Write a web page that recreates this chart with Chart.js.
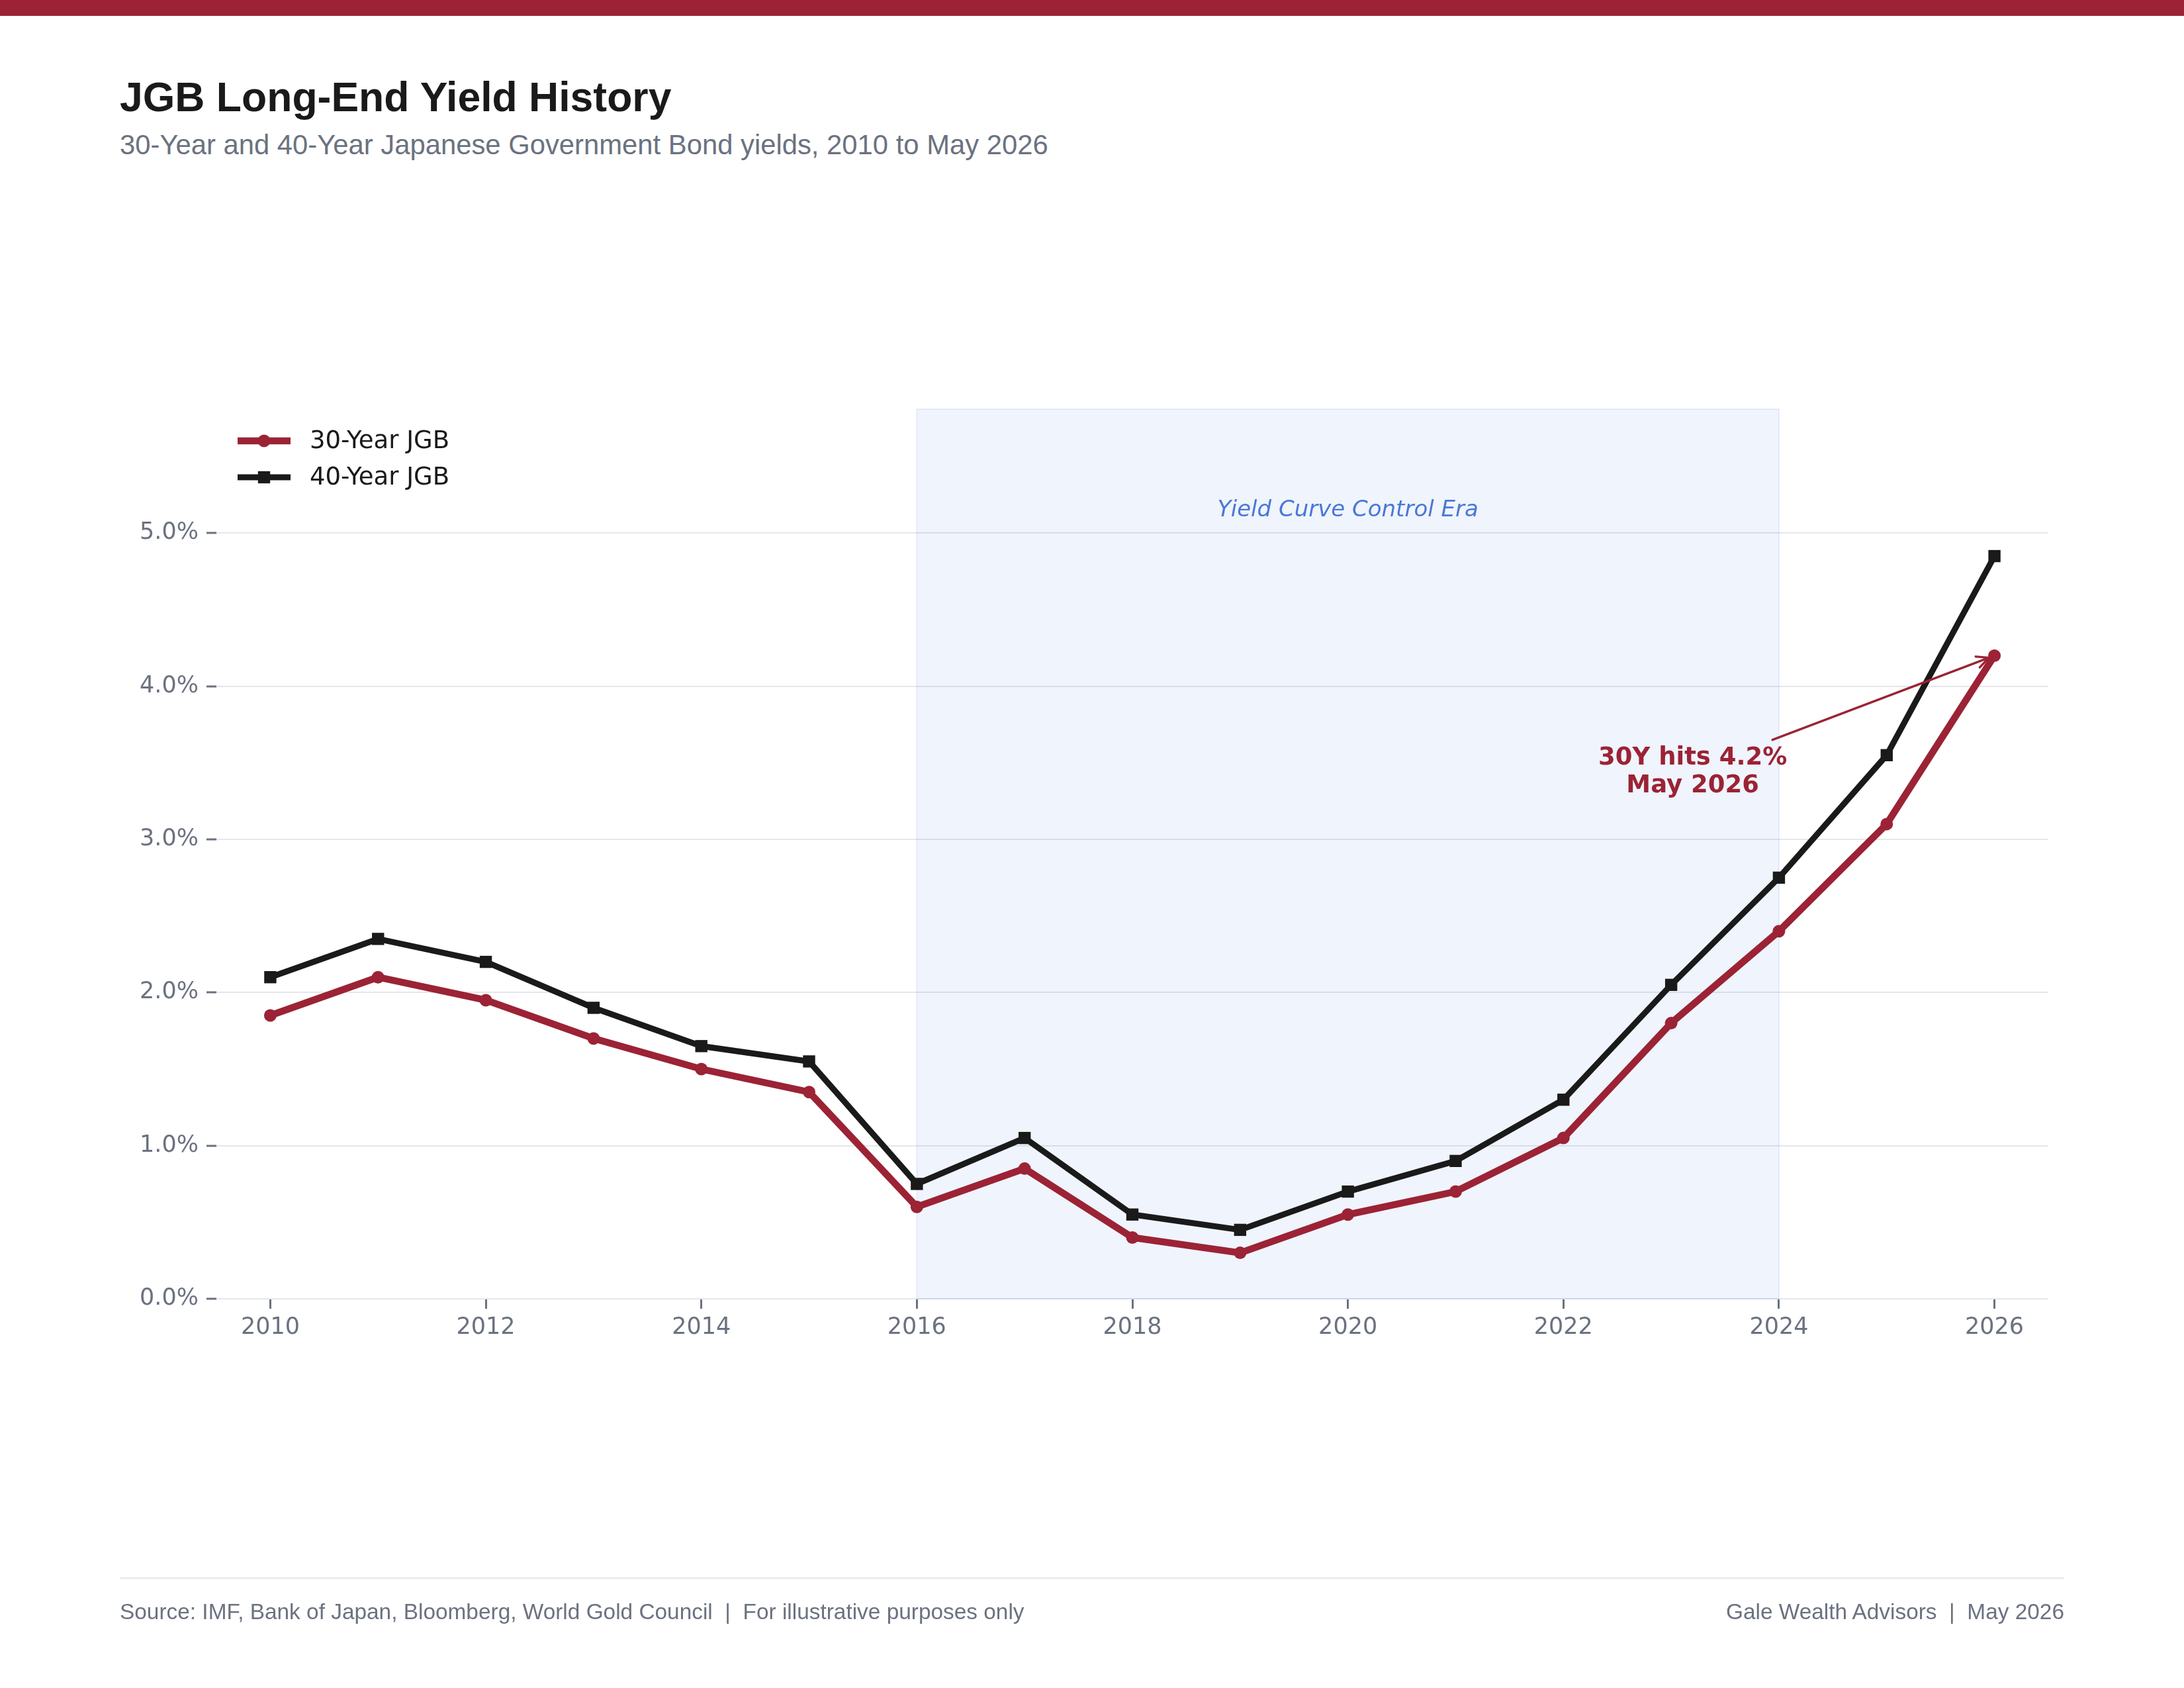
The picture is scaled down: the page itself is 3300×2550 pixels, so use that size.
<!DOCTYPE html>
<html>
<head>
<meta charset="utf-8">
<title>JGB Long-End Yield History</title>
<script src="https://cdn.jsdelivr.net/npm/chart.js@4.4.1/dist/chart.umd.min.js"></script>
<style>
  html, body { margin: 0; padding: 0; background: #fff; }
  #page { position: relative; width: 3300px; height: 2550px; overflow: hidden;
          font-family: "Liberation Sans", Arial, sans-serif; }
  #topbar { position: absolute; left: 0; top: 0; width: 3300px; height: 24px; background: #9B2335; }
  #title { position: absolute; left: 181px; top: 115px; font-size: 62.5px; line-height: 62px;
           font-weight: bold; color: #1A1A1A; white-space: nowrap; }
  #subtitle { position: absolute; left: 181px; top: 198px; font-size: 41.8px; line-height: 42px;
              color: #6B7280; white-space: nowrap; }
  #chart { position: absolute; left: 0; top: 0; }
  #rule { position: absolute; left: 181px; top: 2383px; width: 2938px; height: 2px; background: #E5E7EB; }
  .foot { position: absolute; top: 2418px; font-size: 33.4px; line-height: 33px; color: #6B7280; white-space: pre; }
  #foot-l { left: 181px; }
  #foot-r { right: 181px; }
</style>
</head>
<body>
<div id="page">
  <div id="topbar"></div>
  <div id="title">JGB Long-End Yield History</div>
  <div id="subtitle">30-Year and 40-Year Japanese Government Bond yields, 2010 to May 2026</div>
  <canvas id="chart" width="3300" height="2550"></canvas>
  <div id="rule"></div>
  <div class="foot" id="foot-l">Source: IMF, Bank of Japan, Bloomberg, World Gold Council  |  For illustrative purposes only</div>
  <div class="foot" id="foot-r">Gale Wealth Advisors  |  May 2026</div>
</div>
<script>
(function () {
  "use strict";

  // --- data ---------------------------------------------------------------- //
  var years   = [2010, 2011, 2012, 2013, 2014, 2015, 2016, 2017, 2018,
                 2019, 2020, 2021, 2022, 2023, 2024, 2025, 2026];
  var yield30 = [1.85, 2.10, 1.95, 1.70, 1.50, 1.35, 0.60, 0.85, 0.40,
                 0.30, 0.55, 0.70, 1.05, 1.80, 2.40, 3.10, 4.20];
  var yield40 = [2.10, 2.35, 2.20, 1.90, 1.65, 1.55, 0.75, 1.05, 0.55,
                 0.45, 0.70, 0.90, 1.30, 2.05, 2.75, 3.55, 4.85];
  var seriesNames = ["30-Year JGB", "40-Year JGB"];
  var xTicks = [2010, 2012, 2014, 2016, 2018, 2020, 2022, 2024, 2026];
  var yTicks = [0, 1, 2, 3, 4, 5];

  var yccSpan = [2016, 2024];          // Yield Curve Control era
  var yccLabel = "Yield Curve Control Era";
  var yccLabelAt = [2020, 5.15];
  var noteLines = ["30Y hits 4.2%", "May 2026"];
  var noteAt = [2023.2, 3.44];         // text centre
  var noteTail = [2023.94, 3.65];      // arrow start
  var noteTarget = [2026, 4.2];        // arrow points here

  var COL = {
    red: "#9B2335",
    ink: "#1A1A1A",
    dim: "#6B7280",
    grid: "#E5E7EB",
    blue: "#4A78D6",
  };
  var FONT = '"DejaVu Sans", Verdana, sans-serif';

  function pts(vals) {
    return years.map(function (x, i) { return { x: x, y: vals[i] }; });
  }

  // shaded YCC band + its label, under the lines
  var bandPlugin = {
    id: "yccBand",
    beforeDatasetsDraw: function (chart) {
      var c = chart.ctx, xs = chart.scales.x, ys = chart.scales.y, a = chart.chartArea;
      var x0 = xs.getPixelForValue(yccSpan[0]), x1 = xs.getPixelForValue(yccSpan[1]);
      var yb = ys.getPixelForValue(0);
      c.save();
      c.fillStyle = "rgba(59,111,212,0.075)";
      c.fillRect(x0, a.top, x1 - x0, yb - a.top);
      c.strokeStyle = "rgba(59,111,212,0.10)";
      c.lineWidth = 2;
      c.strokeRect(x0, a.top, x1 - x0, yb - a.top);
      c.fillStyle = COL.blue;
      c.font = "italic 34px " + FONT;
      c.textAlign = "center";
      c.textBaseline = "middle";
      c.fillText(yccLabel, xs.getPixelForValue(yccLabelAt[0]), ys.getPixelForValue(yccLabelAt[1]));
      c.restore();
    },
  };

  // callout with open arrow head
  var notePlugin = {
    id: "note",
    afterDatasetsDraw: function (chart) {
      var c = chart.ctx, xs = chart.scales.x, ys = chart.scales.y;
      var tx = xs.getPixelForValue(noteTail[0]), ty = ys.getPixelForValue(noteTail[1]);
      var hx = xs.getPixelForValue(noteTarget[0]), hy = ys.getPixelForValue(noteTarget[1]);
      var ang = Math.atan2(hy - ty, hx - tx);
      hx -= Math.cos(ang) * 9; hy -= Math.sin(ang) * 9;   // stop short of the marker
      c.save();
      c.strokeStyle = COL.red;
      c.lineWidth = 3.5;
      c.lineCap = "round";
      c.beginPath();
      c.moveTo(tx, ty); c.lineTo(hx, hy);
      var hl = 20, spread = 0.45;
      c.moveTo(hx - hl * Math.cos(ang - spread), hy - hl * Math.sin(ang - spread));
      c.lineTo(hx, hy);
      c.lineTo(hx - hl * Math.cos(ang + spread), hy - hl * Math.sin(ang + spread));
      c.stroke();
      c.fillStyle = COL.red;
      c.font = "bold 37px " + FONT;
      c.textAlign = "center";
      c.textBaseline = "middle";
      var cx = xs.getPixelForValue(noteAt[0]), cy = ys.getPixelForValue(noteAt[1]);
      var lh = 42;
      noteLines.forEach(function (t, i) {
        c.fillText(t, cx, cy + (i - (noteLines.length - 1) / 2) * lh);
      });
      c.restore();
    },
  };

  // matplotlib-style legend: line with marker in the middle
  var legendPlugin = {
    id: "lineLegend",
    afterDatasetsDraw: function (chart) {
      var c = chart.ctx, a = chart.chartArea;
      var x0 = a.left + 32, len = 80, y0 = a.top + 48, gap = 55;
      c.save();
      c.font = "37px " + FONT;
      c.textBaseline = "middle";
      c.textAlign = "left";
      chart.data.datasets.forEach(function (ds, i) {
        var y = y0 + i * gap, mx = x0 + len / 2;
        c.strokeStyle = ds.borderColor;
        c.lineWidth = ds.borderWidth;
        c.beginPath(); c.moveTo(x0, y); c.lineTo(x0 + len, y); c.stroke();
        c.fillStyle = ds.borderColor;
        if (ds.pointStyle === "rect") {
          var s = ds.pointRadius * Math.SQRT1_2;
          c.fillRect(mx - s, y - s, 2 * s, 2 * s);
        } else {
          c.beginPath(); c.arc(mx, y, ds.pointRadius, 0, Math.PI * 2); c.fill();
        }
        c.fillStyle = COL.ink;
        c.fillText(ds.label, x0 + 109, y + 1);
      });
      c.restore();
    },
  };

  new Chart(document.getElementById("chart").getContext("2d"), {
    type: "line",
    data: {
      datasets: [{
        label: seriesNames[0],
        data: pts(yield30),
        borderColor: COL.red,
        backgroundColor: COL.red,
        borderWidth: 10.5,
        pointStyle: "circle",
        pointRadius: 9.5,
        pointBorderWidth: 0,
        tension: 0,
      }, {
        label: seriesNames[1],
        data: pts(yield40),
        borderColor: COL.ink,
        backgroundColor: COL.ink,
        borderWidth: 9,
        pointStyle: "rect",
        pointRadius: 13,
        pointBorderWidth: 0,
        tension: 0,
      }],
    },
    options: {
      responsive: false,
      animation: false,
      devicePixelRatio: 1,
      layout: { padding: { left: 0, right: 205, top: 618, bottom: 488 } },
      plugins: { legend: { display: false }, tooltip: { enabled: false } },
      scales: {
        x: {
          type: "linear", min: 2009.5, max: 2026.5,
          afterBuildTicks: function (s) { s.ticks = xTicks.map(function (v) { return { value: v }; }); },
          afterFit: function (s) { s.height = 100; },
          border: { display: false },
          grid: { drawOnChartArea: false, tickLength: 15, tickWidth: 3, tickColor: COL.dim },
          ticks: { color: COL.dim, font: { family: FONT, size: 35 }, padding: 8,
                   maxRotation: 0, callback: function (v) { return String(v); } },
        },
        y: {
          min: 0, max: 5.81,
          afterBuildTicks: function (s) { s.ticks = yTicks.map(function (v) { return { value: v }; }); },
          afterFit: function (s) { s.width = 327; },
          border: { display: false },
          grid: { color: COL.grid, lineWidth: 2, tickLength: 15, tickWidth: 3, tickColor: COL.dim },
          ticks: { color: COL.dim, font: { family: FONT, size: 35 }, padding: 12,
                   callback: function (v) { return v.toFixed(1) + "%"; } },
        },
      },
    },
    plugins: [bandPlugin, notePlugin, legendPlugin],
  });
})();
</script>
</body>
</html>
